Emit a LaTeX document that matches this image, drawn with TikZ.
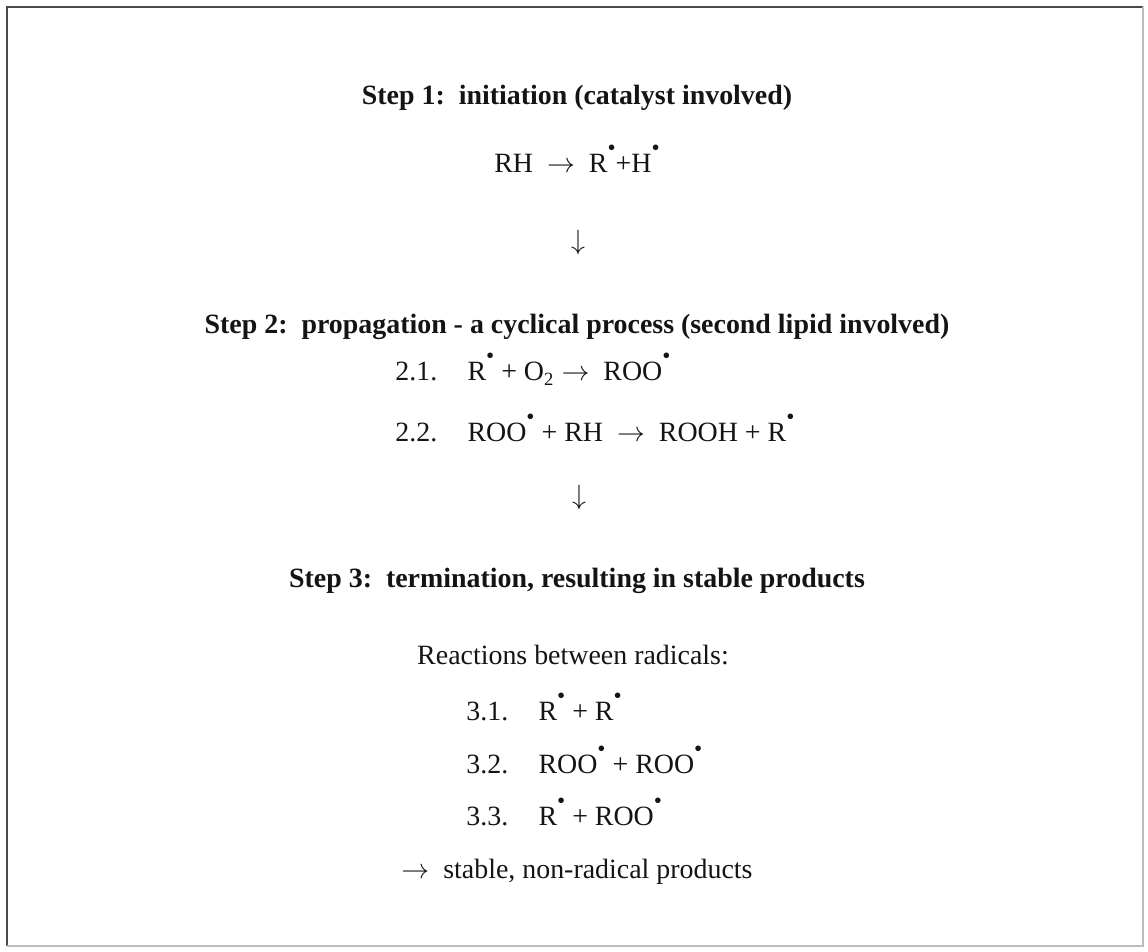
\documentclass[tikz,border=0pt]{standalone}
\usepackage{fontspec}
\setmainfont{Liberation Serif}
\usepackage{tikz}
\usetikzlibrary{positioning}
\definecolor{ink}{HTML}{141414}
\definecolor{framedark}{HTML}{4A4A4A}
\definecolor{framelight}{HTML}{BDBDBD}
\newcommand{\rad}{\raisebox{0.62em}{\fontsize{10}{10}\selectfont\textbullet}}
\newcommand{\yields}{\ensuremath{\rightarrow}}
\newcommand{\rxnlabel}[1]{\makebox[31pt][l]{#1}}
\tikzset{
  basetext/.style={
    text=ink, font=\fontsize{12}{14}\selectfont,
    inner sep=0pt, anchor=base
  },
  stephead/.style={basetext, font=\fontsize{12}{14}\selectfont\bfseries},
  rxnline/.style={basetext, anchor=base west},
  flowdown/.style={basetext},
  frameline/.style={line width=1.2pt, draw=#1},
  frameline/.default=framedark,
}
\begin{document}
\begin{tikzpicture}[x=0.43pt, y=-0.43pt]
\useasboundingbox (0,0) rectangle (1148,952);
% frame
\coordinate (fnw) at (7,7);
\coordinate (fne) at (1143,7);
\coordinate (fsw) at (7,946);
\coordinate (fse) at (1143,946);
\draw[frameline] (fsw) -- (fnw) -- (fne);
\draw[frameline=framelight] (fne) -- (fse) -- (fsw);
% step 1
\node[stephead] (step1) at (577,105) {Step 1:\ \ initiation (catalyst involved)};
\node[basetext] (init) at (577,173) {RH\ \ \yields\ \ R\rad+H\rad};
\node[flowdown] (down1) at (578,250) {$\downarrow$};
% step 2
\node[stephead] (step2) at (577,334) {Step 2:\ \ propagation - a cyclical process (second lipid involved)};
\node[rxnline] (prop1) at (395,381) {\rxnlabel{2.1.}R\rad\ + O\textsubscript{2} \yields\ \ ROO\rad};
\node[rxnline] (prop2) at (395,442) {\rxnlabel{2.2.}ROO\rad\ + RH\ \ \yields\ \ ROOH + R\rad};
\node[flowdown] (down2) at (579,505) {$\downarrow$};
% step 3
\node[stephead] (step3) at (577,588) {Step 3:\ \ termination, resulting in stable products};
\node[basetext] (react) at (573,665) {Reactions between radicals:};
\node[rxnline] (term1) at (466,721) {\rxnlabel{3.1.}R\rad\ + R\rad};
\node[rxnline] (term2) at (466,774) {\rxnlabel{3.2.}ROO\rad\ + ROO\rad};
\node[rxnline] (term3) at (466,826) {\rxnlabel{3.3.}R\rad\ + ROO\rad};
\node[basetext] (stable) at (577,879) {\yields\ \ stable, non-radical products};
\end{tikzpicture}
\end{document}
